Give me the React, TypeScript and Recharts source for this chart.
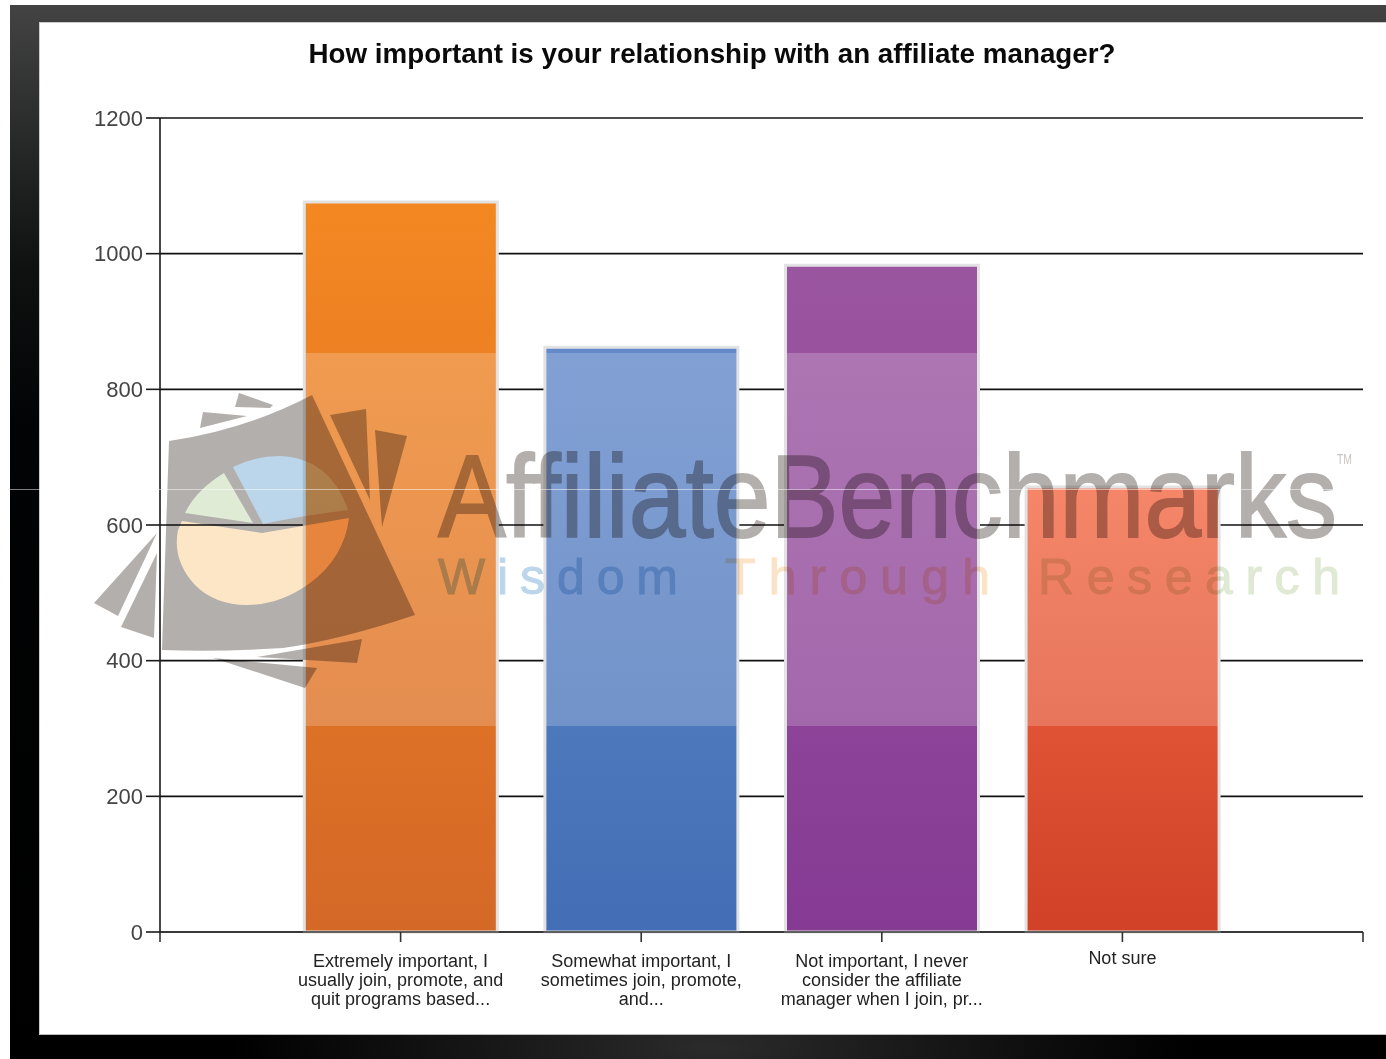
import React from 'react';
import { BarChart, Bar, Cell, XAxis, YAxis, CartesianGrid } from 'recharts';

const TITLE = 'How important is your relationship with an affiliate manager?';

const categoryLines = [
  ['Extremely important, I', 'usually join, promote, and', 'quit programs based...'],
  ['Somewhat important, I', 'sometimes join, promote,', 'and...'],
  ['Not important, I never', 'consider the affiliate', 'manager when I join, pr...'],
  ['Not sure'],
];
const positions = [1, 2, 3, 4];
const responses = [1076, 862, 983, 656];
const xTicks = [0, 1, 2, 3, 4, 5];
const yTicks = [0, 200, 400, 600, 800, 1000, 1200];
const barTopColors = ['#f38822', '#6389c9', '#9b56a0', '#f26842'];
const barBottomColors = ['#d46827', '#436eb5', '#863a94', '#d04127'];

// pale band that crosses the bars, in axis units
const WASH_LOW = 304;
const WASH_HIGH = 854;
const WASH = 0.2;

const chartData = positions.map((pos, i) => ({ pos, value: responses[i] }));

const WIDTH = 1386;
const HEIGHT = 1059;

const rgb = (hex: string) => [1, 3, 5].map((i) => parseInt(hex.slice(i, i + 2), 16));
const mix = (a: number[], b: number[], t: number) => a.map((v, i) => v + (b[i] - v) * t);
const css = (c: number[]) => `rgb(${c.map(Math.round).join(',')})`;
const washed = (c: number[]) => mix(c, [255, 255, 255], WASH);

// hard colour steps where the band starts and ends on a bar of this height
const BarGradient = ({ id, top, bottom, value }: { id: string; top: string; bottom: string; value: number }) => {
  const a = rgb(top);
  const b = rgb(bottom);
  const high = Math.max(0, 1 - WASH_HIGH / value);
  const low = 1 - WASH_LOW / value;
  return (
    <linearGradient id={id} x1="0" y1="0" x2="0" y2="1">
      {high > 0 && <stop offset={0} stopColor={css(a)} />}
      {high > 0 && <stop offset={high} stopColor={css(mix(a, b, high))} />}
      <stop offset={high} stopColor={css(washed(mix(a, b, high)))} />
      <stop offset={low} stopColor={css(washed(mix(a, b, low)))} />
      <stop offset={low} stopColor={css(mix(a, b, low))} />
      <stop offset={1} stopColor={css(b)} />
    </linearGradient>
  );
};

const AxisTick = ({ x, y, payload }: any) => {
  const lines = categoryLines[payload.value - 1] || [];
  const shift = lines.length === 1 ? -3 : 0;
  return (
    <text x={x} y={y + 13 + shift} textAnchor="middle" fontSize={18} fill="#222" fontFamily="Liberation Sans">
      {lines.map((line, i) => (
        <tspan key={line} x={x} dy={i === 0 ? 10 : 19}>{line}</tspan>
      ))}
    </text>
  );
};

const Watermark = () => (
  <g style={{ mixBlendMode: 'multiply' }}>
    <path d="M169 441 Q245 430 312 395 L415 615 Q340 640 283 648 Q220 652 162 650 Z" fill="#b3afad" />
    <path d="M239 393 L273 405 L270 408 L235 407 Z" fill="#b3afad" />
    <path d="M203 412 L247 416 L200 428 Z" fill="#b3afad" />
    <path d="M330 415 L366 409 L370 500 Z" fill="#b3afad" />
    <path d="M375 430 L407 436 L382 527 Z" fill="#b3afad" />
    <path d="M157 533 L118 616 L94 603 Z" fill="#b3afad" />
    <path d="M157 553 L154 638 L121 627 Z" fill="#b3afad" />
    <path d="M362 639 L357 663 L257 657 Z" fill="#b3afad" />
    <path d="M213 658 L317 668 L305 688 Z" fill="#b3afad" />
    <path d="M233 467 Q255 456 280 456 Q330 458 348 510 Q300 516 263 524 Z" fill="#bbd6ea" />
    <path d="M224 473 L253 523 L185 513 Q196 490 224 473 Z" fill="#e0ebd6" />
    <path d="M182 521 L262 533 L349 518 Q344 558 310 583 Q280 605 247 605 Q215 605 195 585 Q172 560 178 530 Z" fill="#fce6c6" />
    <text x={438} y={537} fontSize={117} fill="#b3afad" stroke="#b3afad" strokeWidth={1.8} fontFamily="Liberation Sans" textLength={899} lengthAdjust="spacingAndGlyphs">AffiliateBenchmarks</text>
    <text x={1337} y={464} fontSize={15} fill="#c8c5c3" fontFamily="Liberation Sans" textLength={15} lengthAdjust="spacingAndGlyphs">TM</text>
    <text x={438} y={594} fontSize={50} fill="#bbd6ea" stroke="#bbd6ea" strokeWidth={1} fontFamily="Liberation Sans" textLength={240} lengthAdjust="spacing">Wisdom</text>
    <text x={725} y={594} fontSize={50} fill="#fbe3c8" stroke="#fbe3c8" strokeWidth={1} fontFamily="Liberation Sans" textLength={265} lengthAdjust="spacing">Through</text>
    <text x={1038} y={594} fontSize={50} fill="#dfe9d3" stroke="#dfe9d3" strokeWidth={1} fontFamily="Liberation Sans" textLength={302} lengthAdjust="spacing">Research</text>
  </g>
);

const App: React.FC = () => (
  <div style={{ position: 'absolute', left: 0, top: 0, width: WIDTH, height: HEIGHT, overflow: 'hidden', background: '#fff' }}>
    {/* dark slide frame */}
    <div
      style={{
        position: 'absolute', left: 10, top: 5, right: 0, bottom: 0,
        background: 'radial-gradient(ellipse 480px 130px at 700px 1042px, #2b2b2b, rgba(0,0,0,0)), linear-gradient(180deg, #424342 0, #101212 260px, #020304 420px, #000 100%)',
      }}
    />
    <div style={{ position: 'absolute', left: 39, top: 22, width: WIDTH - 39, height: 1013, background: '#fff', boxShadow: 'inset 1px 1px 0 #ccc, inset 0 -1px 0 #bbb' }} />

    <div style={{ position: 'absolute', left: 0, top: 0 }}>
      <BarChart width={WIDTH} height={HEIGHT} data={chartData} margin={{ top: 118, right: 23, bottom: 67, left: 100 }}>
        <defs>
          {barTopColors.map((c, i) => (
            <BarGradient key={c} id={'barFill' + i} top={c} bottom={barBottomColors[i]} value={responses[i]} />
          ))}
        </defs>
        <CartesianGrid vertical={false} horizontalValues={yTicks} stroke="#111" strokeWidth={1.6} />
        <XAxis
          dataKey="pos" type="number" domain={[0, 5]} ticks={xTicks} height={60} interval={0}
          tick={<AxisTick />} tickSize={10} stroke="#333" strokeWidth={1.6} allowDecimals={false}
        />
        <YAxis
          domain={[0, 1200]} ticks={yTicks} width={60} tickSize={14} tickMargin={3} interval={0}
          stroke="#1a1a1a" strokeWidth={1.6}
          tick={{ fontSize: 22, fill: '#444', fontFamily: 'Liberation Sans' }}
        />
        <Bar dataKey="value" barSize={193} isAnimationActive={false} stroke="#e2e2e2" strokeWidth={3}>
          {chartData.map((d, i) => (
            <Cell key={d.pos} fill={`url(#barFill${i})`} />
          ))}
        </Bar>
      </BarChart>
    </div>

    <svg width={WIDTH} height={HEIGHT} style={{ position: 'absolute', left: 0, top: 0, pointerEvents: 'none' }}>
      <text x={712} y={63} textAnchor="middle" fontSize={27} fontWeight="bold" fill="#0a0a0a" fontFamily="Liberation Sans" textLength={807} lengthAdjust="spacingAndGlyphs">{TITLE}</text>
      <Watermark />
    </svg>
    <div style={{ position: 'absolute', left: 10, right: 0, top: 489, height: 1, background: 'rgba(255,255,255,0.5)' }} />
  </div>
);

export default App;
